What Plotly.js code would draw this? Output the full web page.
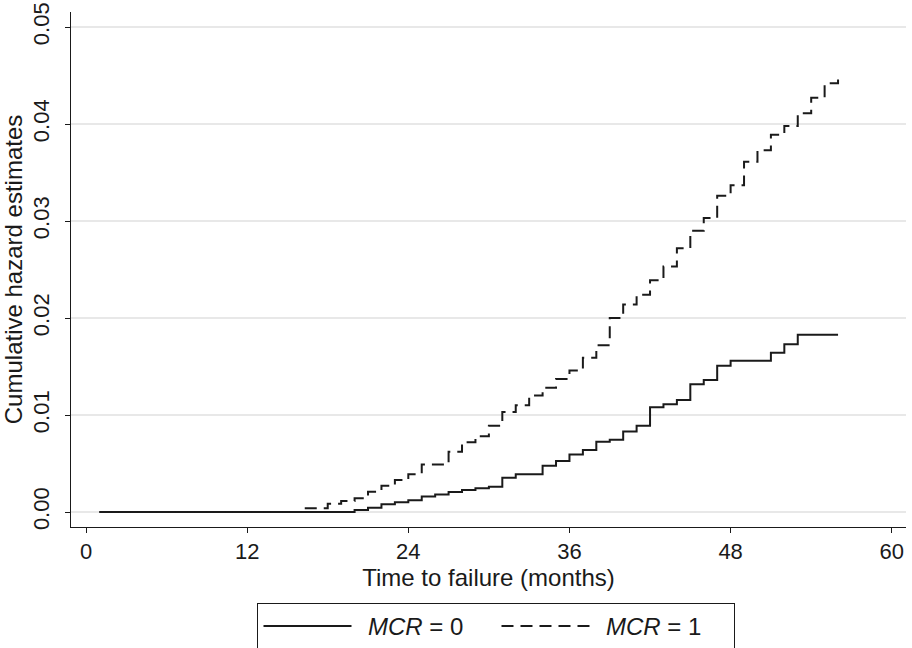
<!DOCTYPE html>
<html>
<head>
<meta charset="utf-8">
<script src="https://cdn.plot.ly/plotly-3.0.1.min.js"></script>
<style>
  html, body { margin: 0; padding: 0; background: #ffffff; }
  #chart { width: 912px; height: 648px; }
</style>
</head>
<body>
<div id="chart"></div>
<script>
// ---- Data ----
const seriesNames = ["\u00a0\u2009<i>MCR</i> = 0", "\u00a0\u2009<i>MCR</i> = 1"];

// MCR = 0 (solid): step times (months) and cumulative hazard values
const mcr0Time = [1, 20, 21, 22, 23, 24, 25, 26, 27, 28, 29, 30, 31, 32, 34, 35, 36, 37, 38, 39, 40, 41, 42, 43, 44, 45, 46, 47, 48, 51, 52, 53, 56];
const mcr0Hazard = [0, 0.0002, 0.00045, 0.0008, 0.001, 0.0012, 0.0016, 0.0018, 0.00205, 0.00227, 0.00244, 0.0026, 0.00354, 0.00388, 0.00478, 0.00526, 0.00594, 0.0064, 0.00725, 0.00745, 0.0083, 0.0089, 0.0108, 0.0111, 0.01155, 0.01316, 0.0136, 0.01508, 0.0156, 0.01643, 0.01729, 0.01828, 0.01828];

// MCR = 1 (dashed)
const mcr1Time = [1, 16, 18, 19, 20, 21, 22, 23, 24, 25, 27, 28, 29, 30, 31, 32, 33, 34, 35, 36, 37, 38, 39, 40, 41, 42, 43, 44, 45, 46, 47, 48, 49, 50, 51, 52, 53, 54, 55, 56];
const mcr1Hazard = [0, 0.00038, 0.00086, 0.00113, 0.00141, 0.0021, 0.0027, 0.0033, 0.0039, 0.0049, 0.0062, 0.0072, 0.0078, 0.0089, 0.0103, 0.011, 0.012, 0.0128, 0.0137, 0.0146, 0.0159, 0.0172, 0.02, 0.0214, 0.0224, 0.0239, 0.0253, 0.0272, 0.029, 0.0303, 0.0326, 0.0337, 0.0361, 0.0373, 0.0389, 0.0398, 0.0411, 0.0427, 0.0442, 0.0451];

// Axis ticks
const xTickVals = [0, 12, 24, 36, 48, 60];
const yTickVals = [0, 0.01, 0.02, 0.03, 0.04, 0.05];
const yTickText = ["0.00", "0.01", "0.02", "0.03", "0.04", "0.05"];

const xTitle = "Time to failure (months)";
const yTitle = "Cumulative hazard estimates";

// ---- Chart ----
const FONT = '"Liberation Sans", Arial, Helvetica, sans-serif';
const INK = '#1a1a1a';

const traces = [
  {
    x: mcr0Time, y: mcr0Hazard, name: seriesNames[0],
    type: 'scatter', mode: 'lines',
    line: { shape: 'hv', color: INK, width: 2, dash: 'solid' }
  },
  {
    x: mcr1Time, y: mcr1Hazard, name: seriesNames[1],
    type: 'scatter', mode: 'lines',
    line: { shape: 'hv', color: INK, width: 2, dash: '12px,7px' }
  }
];

const layout = {
  width: 912, height: 648,
  margin: { l: 71, r: 6, t: 12, b: 121, pad: 0 },
  paper_bgcolor: '#ffffff', plot_bgcolor: '#ffffff',
  font: { family: FONT, color: INK, size: 22 },
  showlegend: true,
  legend: {
    orientation: 'h',
    xref: 'container', yref: 'container',
    x: 0.5444, xanchor: 'center',
    y: 0.0695, yanchor: 'top',
    bordercolor: INK, borderwidth: 1,
    bgcolor: '#ffffff',
    font: { family: FONT, size: 24, color: INK },
    itemwidth: 88,
    entrywidth: 135,
    traceorder: 'normal'
  },
  xaxis: {
    range: [-1.117, 61.06],
    tickmode: 'array', tickvals: xTickVals,
    ticks: 'outside', ticklen: 5, tickwidth: 1, tickcolor: INK,
    showline: true, linecolor: INK, linewidth: 1,
    showgrid: false, zeroline: false,
    tickfont: { family: FONT, size: 22, color: INK },
    title: { text: xTitle, font: { family: FONT, size: 24, color: INK }, standoff: 2 },
    automargin: false, fixedrange: true
  },
  yaxis: {
    range: [-0.001546, 0.05155],
    tickmode: 'array', tickvals: yTickVals, ticktext: yTickText,
    tickangle: -90,
    ticks: 'outside', ticklen: 5, tickwidth: 1, tickcolor: INK,
    ticklabelstandoff: 7,
    showline: true, linecolor: INK, linewidth: 1,
    showgrid: true, gridcolor: '#e8e8e8', gridwidth: 1.5,
    zeroline: false,
    tickfont: { family: FONT, size: 22, color: INK },
    title: { text: yTitle, font: { family: FONT, size: 24, color: INK }, standoff: 0 },
    automargin: false, fixedrange: true
  }
};

Plotly.newPlot('chart', traces, layout, { displayModeBar: false, staticPlot: true });
</script>
</body>
</html>
